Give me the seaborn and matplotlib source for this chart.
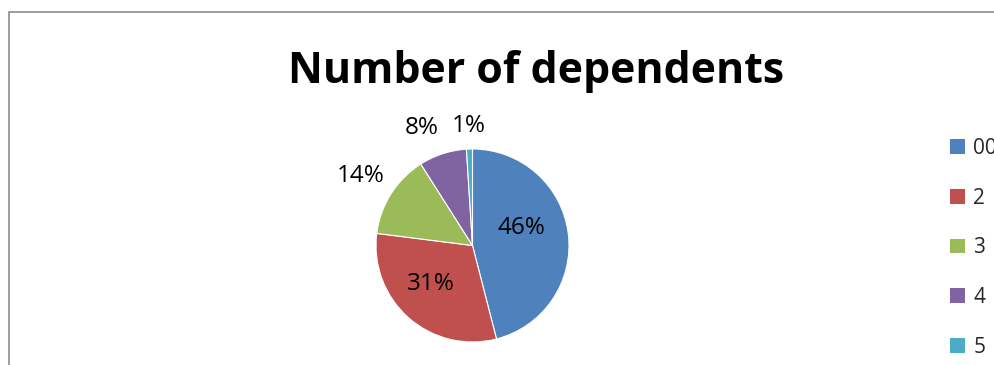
import numpy as np
import matplotlib
matplotlib.use("Agg")
import matplotlib.pyplot as plt
import seaborn as sns
from matplotlib.patches import Rectangle

sns.set_theme(style="white")
plt.rcParams['font.family'] = ['Open Sans', 'DejaVu Sans']

title = "Number of dependents"
categories = ["00", "2", "3", "4", "5"]
shares = [46, 31, 14, 8, 1]
colors = ["#4F81BD", "#C0504D", "#9BBB59", "#8064A2", "#4BACC6"]

# label placement style: radial distance and angular nudge (deg)
label_r = [0.54, 0.59, 1.37, 1.33, 1.24]
label_nudge = [12.0, -6.0, 0.5, 5.5, 0.0]

W, H = 995, 365
fig = plt.figure(figsize=(W / 100, H / 100), dpi=100)
fig.patch.set_facecolor("white")

# outer chart border (left and top visible)
fig.patches.append(Rectangle((8.5 / W, -0.1), 1.2, (H - 12) / H + 0.1,
                             transform=fig.transFigure, fill=False,
                             edgecolor="#8c8c8c", linewidth=1.2))

cx, cy, R = 472.5, 245.5, 96.5
ax = fig.add_axes([(cx - R) / W, (H - cy - R) / H, 2 * R / W, 2 * R / H])
ax.set_xlim(-1, 1)
ax.set_ylim(-1, 1)
ax.set_aspect("equal")
ax.axis("off")

wedges, _ = ax.pie(shares, colors=colors, startangle=90, counterclock=False,
                   radius=1.0, center=(0, 0),
                   wedgeprops=dict(edgecolor="white", linewidth=0.8))
ax.set_xlim(-1, 1)
ax.set_ylim(-1, 1)

total = sum(shares)
for w, v, r, nd in zip(wedges, shares, label_r, label_nudge):
    mid = np.deg2rad((w.theta1 + w.theta2) / 2 + nd)
    ax.text(r * np.cos(mid), r * np.sin(mid), f"{round(100 * v / total)}%",
            ha="center", va="center", fontsize=17.5, color="black",
            clip_on=False)

# title, fitted to width
t = fig.text(536.5 / W, 1 - 83 / H, title, ha="center", va="baseline",
             fontsize=32, fontweight="bold", color="black")
fig.canvas.draw()
bb = t.get_window_extent()
t.set_fontsize(32 * 497 / bb.width)

handles = [Rectangle((0, 0), 1, 1, facecolor=c, edgecolor="none") for c in colors]
leg = fig.legend(handles, categories, loc="upper left",
                 bbox_to_anchor=(950 / W, 1 - 138 / H),
                 frameon=False, fontsize=15, handlelength=0.72,
                 handleheight=0.72, handletextpad=0.4, labelspacing=1.375,
                 borderpad=0, borderaxespad=0)

fig.savefig("out.png", dpi=100, facecolor="white")
